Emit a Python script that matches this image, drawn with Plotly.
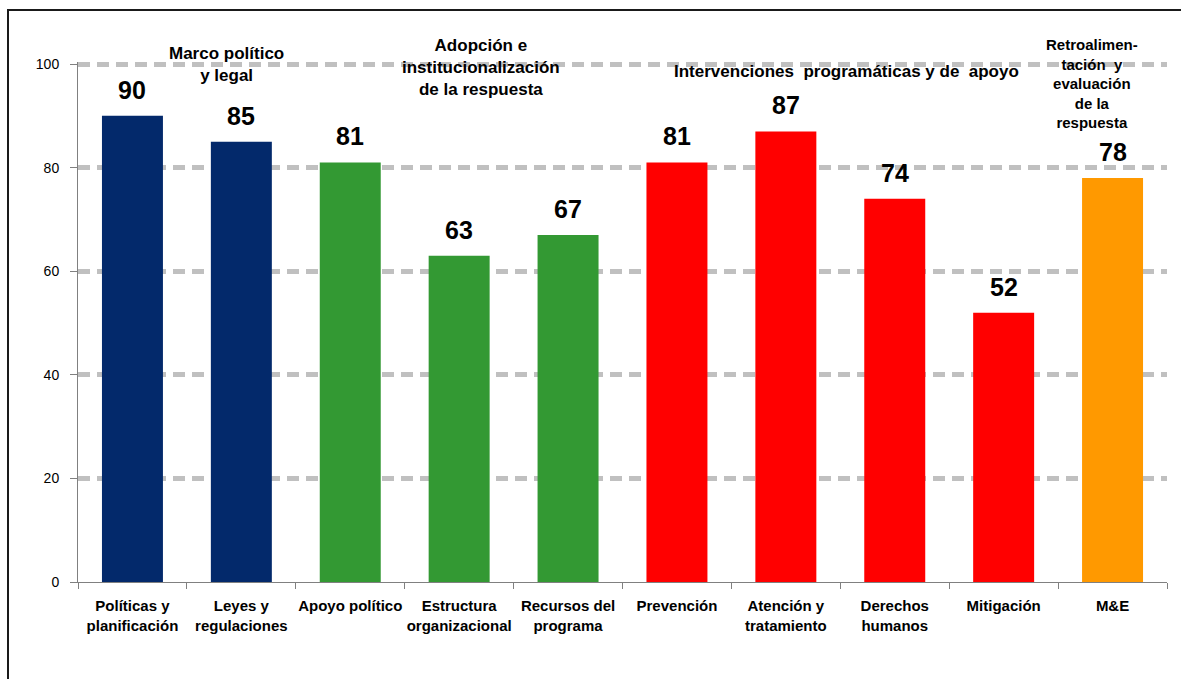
import plotly.graph_objects as go

# Category labels along the x axis
categories = [
    "Políticas y<br>planificación",
    "Leyes y<br>regulaciones",
    "Apoyo político",
    "Estructura<br>organizacional",
    "Recursos del<br>programa",
    "Prevención",
    "Atención y<br>tratamiento",
    "Derechos<br>humanos",
    "Mitigación",
    "M&E",
]

# Scores (0-100) for each category
scores = [90, 85, 81, 63, 67, 81, 87, 74, 52, 78]

# Thematic block each category belongs to
blocks = ["marco", "marco", "adopcion", "adopcion", "adopcion",
          "interv", "interv", "interv", "interv", "retro"]

block_colors = {
    "marco": "#03296b",
    "adopcion": "#339933",
    "interv": "#ff0000",
    "retro": "#ff9900",
}

y_ticks = [0, 20, 40, 60, 80, 100]

FONT = "Liberation Sans, Arial, sans-serif"

fig = go.Figure()
fig.add_trace(go.Bar(
    x=categories,
    y=scores,
    marker=dict(color=[block_colors[b] for b in blocks], line=dict(width=0)),
    hoverinfo="x+y",
))

# Value labels above each bar
for cat, val in zip(categories, scores):
    fig.add_annotation(
        x=cat, y=val, text=str(val), showarrow=False,
        yanchor="middle", yshift=26,
        font=dict(family=FONT, size=25, color="black", weight="bold"),
    )

# Plot-area geometry in pixels (used to place the block headings)
L, R, T, B = 78, 14, 62, 97
W, H = 1181, 679
PW, PH = W - L - R, H - T - B


def px(xp):
    return (xp - L) / PW


def py(yp):
    return (H - B - yp) / PH


headings = [
    ("Marco político<br>y legal", 226, 65, 17),
    ("Adopción e<br>institucionalización<br>de la respuesta", 481, 68, 17),
    ("Intervenciones  programáticas y de  apoyo", 846, 71, 17),
    ("Retroalimen-<br>tación  y<br>evaluación<br>de la<br>respuesta", 1092, 84, 15),
]
for text, hx, hy, size in headings:
    fig.add_annotation(
        xref="paper", yref="paper", x=px(hx), y=py(hy),
        text=text, showarrow=False, xanchor="center", yanchor="middle",
        align="center",
        font=dict(family=FONT, size=size, color="black", weight="bold"),
    )

# Outer frame around the chart
fig.add_shape(
    type="rect", xref="paper", yref="paper",
    x0=px(8), y0=py(700), x1=px(1200), y1=py(10),
    line=dict(color="#1a1a1a", width=2), fillcolor="rgba(0,0,0,0)",
    layer="above",
)

fig.update_layout(
    width=W, height=H,
    margin=dict(l=L, r=R, t=T, b=B, pad=0),
    paper_bgcolor="white",
    plot_bgcolor="white",
    bargap=0.44,
    showlegend=False,
    font=dict(family=FONT, color="black"),
)

fig.update_xaxes(
    type="category",
    showline=True, linecolor="#808080", linewidth=1,
    ticks="outside", tickson="boundaries", ticklen=6, tickcolor="#808080",
    tickangle=0, ticklabelstandoff=10,
    tickfont=dict(family=FONT, size=15, color="black", weight="bold"),
    showgrid=False,
)

fig.update_yaxes(
    range=[0, 100.4],
    tickvals=y_ticks,
    showline=True, linecolor="#808080", linewidth=1,
    ticks="outside", ticklen=7, tickcolor="#808080",
    ticklabelstandoff=8,
    tickfont=dict(family=FONT, size=14, color="black"),
    showgrid=True, gridcolor="#c0c0c0", gridwidth=4.5, griddash="12px,7px",
    zeroline=True, zerolinecolor="#808080", zerolinewidth=1,
)

fig.write_html("out.html")
